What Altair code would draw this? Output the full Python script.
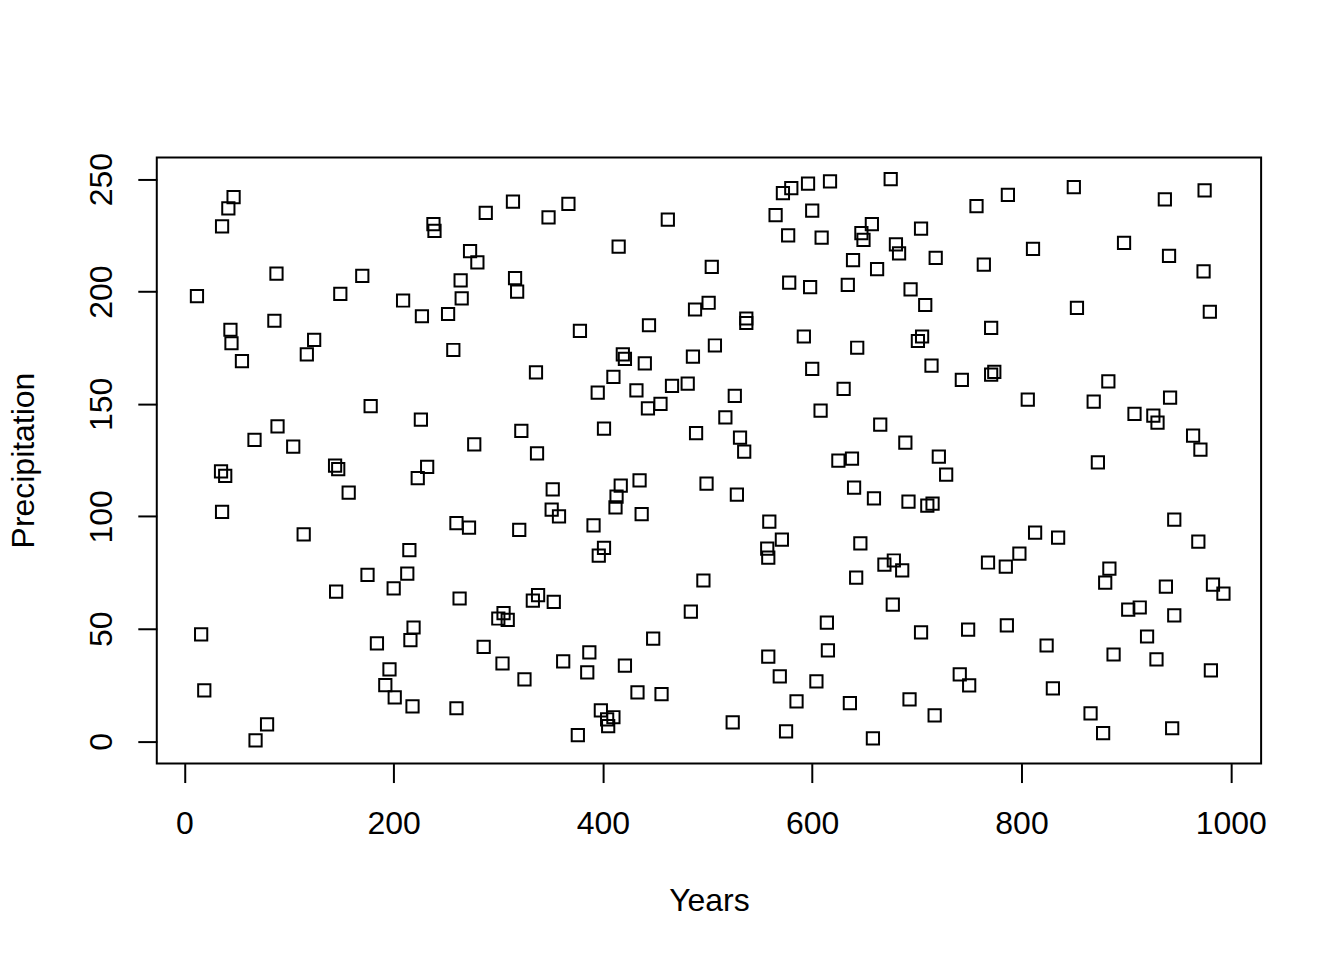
import altair as alt
import pandas as pd

years = [12, 16, 19, 36, 42, 47, 44, 45, 55, 35, 39, 36, 67, 68, 79, 88, 86, 89, 104, 114,
         117, 124, 144, 147, 145, 149, 157, 170, 178, 175, 184, 192, 196, 201, 200, 209, 213, 215, 216, 219,
         218, 223, 226, 227, 232, 238, 239, 252, 257, 260, 260, 264, 265, 263, 272, 273, 280, 277, 288, 286,
         300, 305, 309, 304, 314, 316, 318, 320, 322, 325, 336, 337, 333, 338, 348, 352, 351, 358, 353, 362,
         367, 378, 376, 385, 387, 391, 395, 396, 401, 401, 398, 404, 405, 410, 410, 412, 415, 413, 417, 419,
         421, 421, 432, 435, 437, 433, 440, 443, 444, 448, 455, 456, 462, 466, 481, 484, 488, 486, 489, 496,
         499, 501, 504, 507, 517, 524, 526, 528, 531, 535, 537, 537, 557, 558, 559, 558, 565, 569, 571, 572,
         577, 578, 575, 580, 585, 592, 596, 598, 600, 600, 604, 608, 609, 614, 615, 617, 625, 630, 634, 636,
         638, 639, 640, 643, 642, 646, 647, 649, 657, 659, 658, 662, 665, 669, 675, 677, 678, 680, 683, 686,
         689, 692, 693, 694, 701, 705, 704, 704, 708, 710, 715, 714, 717, 718, 721, 728, 741, 743, 749, 750,
         757, 764, 768, 771, 771, 774, 785, 786, 787, 798, 806, 811, 813, 824, 830, 835, 850, 853, 866, 869,
         873, 878, 880, 884, 883, 888, 898, 902, 908, 913, 920, 926, 930, 929, 937, 938, 941, 942, 944, 946,
         946, 964, 969, 971, 975, 974, 980, 983, 981, 993]

precip = [198, 47.5, 22.6, 229, 237, 242, 183, 177, 169, 120, 118, 102, 134, 0.4, 7.5, 208, 187, 140, 131, 92,
          172, 178.5, 122.6, 121, 66.6, 199, 110.6, 207, 149, 74, 43.5, 25, 32, 19.5, 68, 196, 74.6, 85, 45, 50.6,
          15.5, 117, 143, 189, 122, 230, 227, 190, 174, 97, 14.7, 205, 197, 63.5, 95, 218, 213, 132, 235, 42,
          54.6, 57, 54, 34.6, 240, 206, 200, 94, 138, 27.5, 164, 128, 62.6, 65, 233, 112, 103, 100, 62, 35.5,
          239, 182.5, 2.7, 30.6, 39.5, 96, 155, 82.6, 86, 139, 13.8, 9.8, 6.7, 10.7, 162, 104, 220, 108.8, 113.7, 172,
          170, 33.7, 156, 116, 101, 21.8, 168, 148, 185, 45.7, 150, 21, 232, 158, 159, 57.7, 192, 171, 137, 71.5,
          114.6, 195, 211, 176, 144, 8.4, 153.6, 109.7, 135, 128.8, 186, 188, 85.7, 81.7, 97.7, 37.7, 234, 28.9, 89.7, 243.8,
          225, 204, 4.4, 246, 17.8, 180, 248, 202, 236, 165.6, 26.6, 147, 224, 52.8, 40.4, 249, 124.8, 156.7, 203, 17,
          125.7, 214, 112.8, 175, 72.8, 88, 226, 223, 230, 108, 1.3, 210, 140.8, 78.6, 250, 60.8, 80.4, 221, 217, 76,
          132.8, 106.6, 18.6, 201, 178, 180, 228, 48.4, 194, 104.8, 105.7, 167, 11.5, 215, 126.6, 118.6, 29.8, 160.7, 49.7, 24.9,
          238, 212, 79.5, 183.8, 163, 164.3, 77.7, 51.5, 243, 83.5, 151.9, 219, 92.8, 42.6, 23.5, 90.6, 246.4, 192.7, 12.4, 151,
          124, 3.6, 70.6, 76.8, 160, 38.6, 221.6, 58.6, 145.6, 59.5, 46.6, 144.8, 141.7, 36.4, 241, 68.8, 215.8, 152.8, 5.8, 98.6,
          56, 135.9, 88.8, 129.7, 245, 209, 191, 69.7, 31.5, 65.7]

x_ticks = [0, 200, 400, 600, 800, 1000]
y_ticks = [0, 50, 100, 150, 200, 250]

# axis limits (R adds 4% on each side)
x_domain = [-26.4, 1029.0]
y_domain = [-9.9, 259.6]

df = pd.DataFrame({"Years": years, "Precipitation": precip})

FONT = "Liberation Sans"

chart = (
    alt.Chart(df)
    .mark_point(shape="square", filled=False, color="black", size=150, strokeWidth=2, opacity=1)
    .encode(
        x=alt.X(
            "Years:Q",
            scale=alt.Scale(domain=x_domain, nice=False, zero=False),
            axis=alt.Axis(
                values=x_ticks, format="d", title="Years", grid=False, domain=False,
                tickColor="black", tickWidth=2, tickSize=19,
                labelFont=FONT, labelFontSize=32, labelColor="black",
                labelPadding=26, labelFlush=False, labelOverlap=False,
                labelBaseline="top", labelAlign="center",
                titleFont=FONT, titleFontSize=32, titleFontWeight="normal", titleColor="black",
                titleBaseline="alphabetic", titleAlign="center", titleX=553, titleY=147,
            ),
        ),
        y=alt.Y(
            "Precipitation:Q",
            scale=alt.Scale(domain=y_domain, nice=False, zero=False),
            axis=alt.Axis(
                values=y_ticks, format="d", title="Precipitation", grid=False, domain=False,
                tickColor="black", tickWidth=2, tickSize=19,
                labelFont=FONT, labelFontSize=32, labelColor="black",
                labelPadding=26, labelFlush=False, labelOverlap=False,
                labelAngle=270, labelAlign="center", labelBaseline="alphabetic",
                titleFont=FONT, titleFontSize=32, titleFontWeight="normal", titleColor="black",
                titleAngle=270, titleBaseline="alphabetic", titleAlign="center",
                titleX=-123, titleY=303,
            ),
        ),
    )
    .properties(
        width=1106,
        height=607,
        background="white",
        autosize=alt.AutoSizeParams(type="none"),
        padding={"left": 149, "top": 149, "right": 75, "bottom": 180},
    )
    .configure_view(stroke="black", strokeWidth=2, fill="white")
)

chart.save("out.html", embed_options={"renderer": "svg", "actions": False})
